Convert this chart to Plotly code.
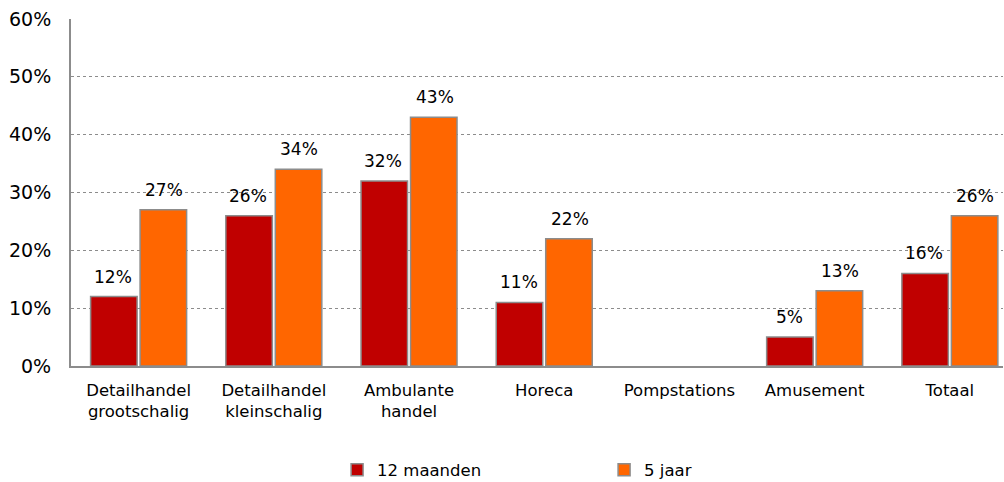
import plotly.graph_objects as go

categories = [
    "Detailhandel<br>grootschalig",
    "Detailhandel<br>kleinschalig",
    "Ambulante<br>handel",
    "Horeca",
    "Pompstations",
    "Amusement",
    "Totaal",
]
months_12 = [12, 26, 32, 11, None, 5, 16]
years_5 = [27, 34, 43, 22, None, 13, 26]
series_names = ["12 maanden", "5 jaar"]
series_colours = ["#C00000", "#FF6600"]
y_ticks = [0, 10, 20, 30, 40, 50, 60]

FONT = "Verdana, DejaVu Sans, sans-serif"

fig = go.Figure()
for name, values, colour in zip(series_names, [months_12, years_5], series_colours):
    fig.add_trace(
        go.Bar(
            x=categories,
            y=values,
            name=name,
            offsetgroup=name,
            marker=dict(color=colour, line=dict(color="#8C8C8C", width=1.5)),
        )
    )

# value labels, lifted a little above each bar
for values, offset in zip([months_12, years_5], [-0.189, 0.189]):
    for cat_idx, v in enumerate(values):
        if v is None:
            continue
        fig.add_annotation(
            x=cat_idx + offset,
            y=v,
            text=f"{v}%",
            showarrow=False,
            yanchor="bottom",
            yshift=8,
            font=dict(size=17, family=FONT, color="black"),
        )

fig.update_layout(
    width=1004,
    height=482,
    margin=dict(l=71, r=1, t=19, b=116, autoexpand=False),
    plot_bgcolor="white",
    paper_bgcolor="white",
    barmode="group",
    bargap=0.268,
    bargroupgap=0.06,
    font=dict(family=FONT, size=16, color="black"),
    showlegend=True,
    legend=dict(
        orientation="h",
        x=0.2855,
        xanchor="left",
        y=-0.30,
        yanchor="middle",
        entrywidth=222,
        entrywidthmode="pixels",
        font=dict(size=16.5, family=FONT),
        itemclick=False,
    ),
)
# the original chart runs slightly past the right edge of the picture
fig.update_xaxes(
    range=[-0.5, 6.393],
    showline=True,
    linecolor="#8C8C8C",
    linewidth=2,
    showgrid=False,
    ticks="",
    tickfont=dict(size=16.5),
    ticklabelstandoff=8,
)
fig.update_yaxes(
    range=[0, 60],
    tickvals=y_ticks,
    ticktext=[f"{t}%" for t in y_ticks],
    showline=True,
    linecolor="#8C8C8C",
    linewidth=2,
    showgrid=True,
    gridcolor="#8C8C8C",
    griddash="dot",
    gridwidth=1,
    zeroline=False,
    ticks="",
    tickfont=dict(size=19),
    ticklabelstandoff=14,
)

# the browser's default body margin would shift the chart by 8px
fig.write_html(
    "out.html",
    config={"displayModeBar": False},
    post_script="document.body.style.margin='0px';document.body.style.overflow='hidden';",
)
